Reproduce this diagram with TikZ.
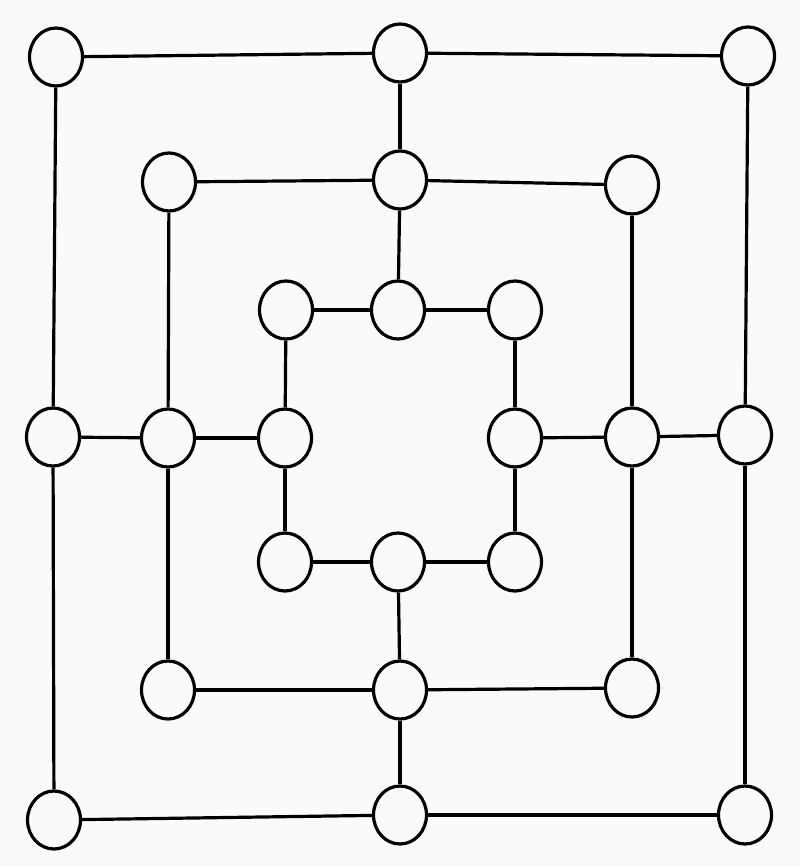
\documentclass[tikz,border=0pt]{standalone}
\usetikzlibrary{shapes.geometric}
\begin{document}
\begin{tikzpicture}[x=1pt,y=-1pt,
  spot/.style={draw=black,line width=3.2pt,ellipse,minimum width=53pt,minimum height=58pt,inner sep=0pt,fill=black!2},
  link/.style={draw=black,line width=3.2pt}]
\fill[black!2] (0,0) rectangle (800,866);
\useasboundingbox (0,0) rectangle (800,866);
% outer square
\node[spot] (a1) at (56,57) {};
\node[spot] (a2) at (400,53) {};
\node[spot] (a3) at (748,56) {};
\node[spot] (a4) at (745,435) {};
\node[spot] (a5) at (745,815) {};
\node[spot] (a6) at (400,815) {};
\node[spot] (a7) at (54,820) {};
\node[spot] (a8) at (53,437) {};
% middle square
\node[spot] (b1) at (169,182) {};
\node[spot] (b2) at (400,180) {};
\node[spot] (b3) at (632,185) {};
\node[spot] (b4) at (632,437) {};
\node[spot] (b5) at (632,688) {};
\node[spot] (b6) at (400,690) {};
\node[spot] (b7) at (168,690) {};
\node[spot] (b8) at (168,438) {};
% inner square
\node[spot] (c1) at (286,310) {};
\node[spot] (c2) at (398,310) {};
\node[spot] (c3) at (515,310) {};
\node[spot] (c4) at (515,438) {};
\node[spot] (c5) at (515,562) {};
\node[spot] (c6) at (398,562) {};
\node[spot] (c7) at (285,562) {};
\node[spot] (c8) at (285,438) {};
% square edges
\foreach \s in {a,b,c}{
  \draw[link] (\s1) -- (\s2);
  \draw[link] (\s2) -- (\s3);
  \draw[link] (\s3) -- (\s4);
  \draw[link] (\s4) -- (\s5);
  \draw[link] (\s5) -- (\s6);
  \draw[link] (\s6) -- (\s7);
  \draw[link] (\s7) -- (\s8);
  \draw[link] (\s8) -- (\s1);
}
% cross connectors
\draw[link] (a2) -- (b2);
\draw[link] (b2) -- (c2);
\draw[link] (a4) -- (b4);
\draw[link] (b4) -- (c4);
\draw[link] (a6) -- (b6);
\draw[link] (b6) -- (c6);
\draw[link] (a8) -- (b8);
\draw[link] (b8) -- (c8);
\end{tikzpicture}
\end{document}
